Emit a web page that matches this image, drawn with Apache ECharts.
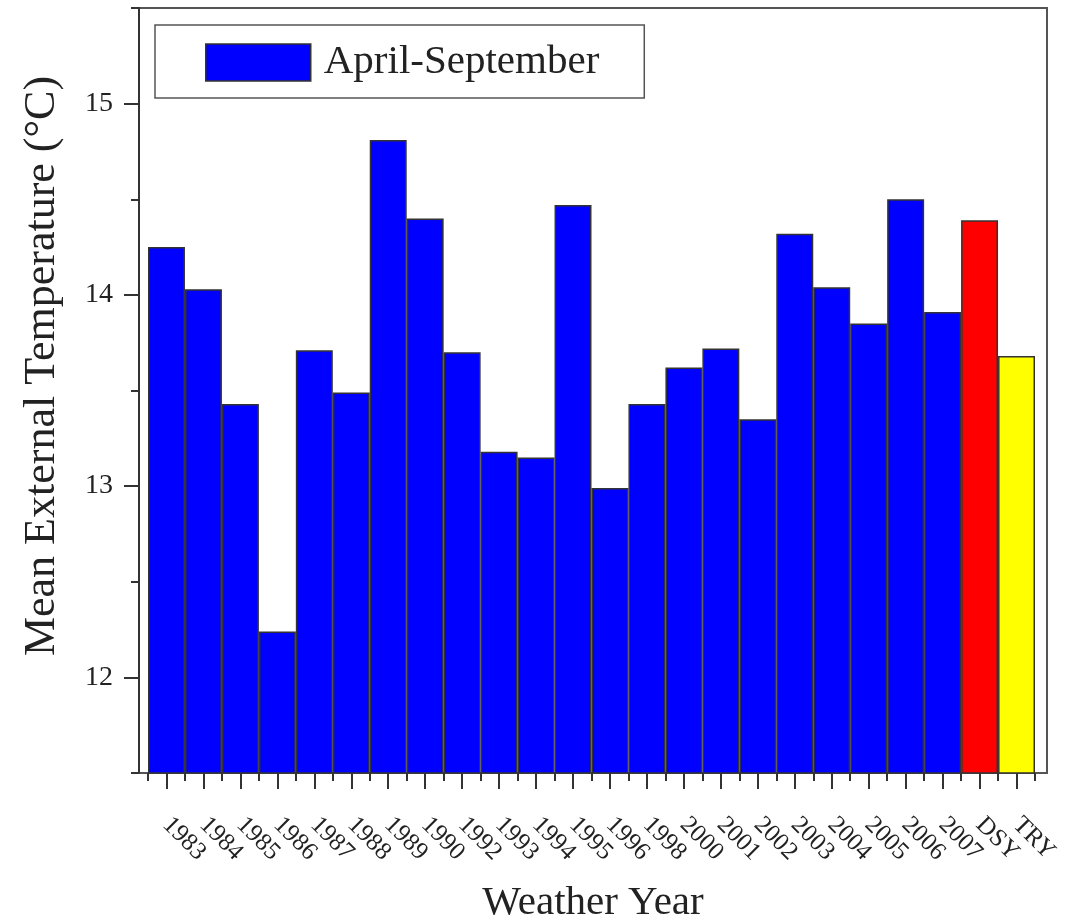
<!DOCTYPE html>
<html>
<head>
<meta charset="utf-8">
<title>Mean External Temperature by Weather Year</title>
<script src="https://cdn.jsdelivr.net/npm/echarts@6/dist/echarts.min.js"></script>
<style>
  html, body { margin: 0; padding: 0; background: #ffffff; }
  #chart { width: 1068px; height: 924px; }
</style>
</head>
<body>
<div id="chart"></div>
<script>
// Weather years plus the two reference years (DSY, TRY)
const categories = ['1983', '1984', '1985', '1986', '1987', '1988', '1989', '1990',
  '1992', '1993', '1994', '1995', '1996', '1998', '2000', '2001', '2002', '2003',
  '2004', '2005', '2006', '2007', 'DSY', 'TRY'];

// Mean external temperature, April-September (°C)
const meanTemps = [14.25, 14.03, 13.43, 12.24, 13.71, 13.49, 14.81, 14.40,
  13.70, 13.18, 13.15, 14.47, 12.99, 13.43, 13.62, 13.72, 13.35, 14.32,
  14.04, 13.85, 14.50, 13.91, 14.39, 13.68];

// Y axis range and tick values
const yMin = 11.5;
const yMax = 15.5;
const yMajorTicks = [12, 13, 14, 15];
const yMinorTicks = [11.5, 12.5, 13.5, 14.5, 15.5];

const seriesName = 'April-September';

// Fill colours
const baseColor = '#0000ff';
const specialColors = { DSY: '#ff0000', TRY: '#ffff00' };

const serif = "'Liberation Serif', 'Times New Roman', 'DejaVu Serif', serif";
const ink = '#222222';
const axisInk = '#333333';

const chart = echarts.init(document.getElementById('chart'), null, { renderer: 'canvas' });

const barData = categories.map((c, i) => ({
  value: meanTemps[i],
  itemStyle: { color: specialColors[c] || baseColor }
}));

const option = {
  backgroundColor: '#ffffff',
  animation: false,
  legend: {
    data: [seriesName],
    left: 155,
    top: 25,
    padding: [17, 45, 15, 50],
    itemWidth: 105,
    itemHeight: 37,
    icon: 'rect',
    borderColor: '#555555',
    borderWidth: 1.5,
    itemStyle: { borderColor: axisInk, borderWidth: 1.5 },
    textStyle: { fontFamily: serif, fontSize: 41, color: ink, lineHeight: 37, padding: [0, 0, 0, 8] }
  },
  grid: [
    // frame grid (full box, y axis)
    { left: 139, right: 21, top: 8, bottom: 151, show: true, borderColor: '#555555', borderWidth: 2,
      containLabel: false, outerBoundsMode: 'none' },
    // bar grid (inset slightly inside the frame)
    { left: 148, right: 33, top: 8, bottom: 151, containLabel: false, outerBoundsMode: 'none' }
  ],
  xAxis: [
    {
      gridIndex: 0, type: 'value', min: 0, max: 1, position: 'bottom',
      name: 'Weather Year', nameLocation: 'middle', nameGap: 110,
      nameTextStyle: { fontFamily: serif, fontSize: 41, color: ink },
      axisLine: { show: false }, axisTick: { show: false },
      axisLabel: { show: false }, splitLine: { show: false }
    },
    {
      gridIndex: 1, type: 'category', data: categories, boundaryGap: true, position: 'bottom',
      axisLine: { show: false },
      axisTick: { show: true, alignWithLabel: true, length: 16, lineStyle: { color: axisInk, width: 2 } },
      axisLabel: { interval: 0, rotate: -45, margin: 48, fontFamily: serif, fontSize: 25, color: ink },
      splitLine: { show: false }
    },
    {
      gridIndex: 1, type: 'category', data: categories, boundaryGap: true, position: 'bottom',
      axisLine: { show: false },
      axisTick: { show: true, alignWithLabel: false, interval: 0, length: 8, lineStyle: { color: axisInk, width: 2 } },
      axisLabel: { show: false },
      splitLine: { show: false }
    }
  ],
  yAxis: [
    {
      gridIndex: 0, type: 'value', min: yMin, max: yMax, position: 'left',
      axisLine: { show: true, lineStyle: { color: axisInk, width: 2 } },
      axisTick: { show: true, length: 15, customValues: yMajorTicks, lineStyle: { color: axisInk, width: 2 } },
      axisLabel: { customValues: yMajorTicks, margin: 26, fontFamily: serif, fontSize: 28, color: ink },
      splitLine: { show: false }
    },
    {
      gridIndex: 0, type: 'value', min: yMin, max: yMax, position: 'left',
      axisLine: { show: false },
      axisTick: { show: true, length: 8, customValues: yMinorTicks, lineStyle: { color: axisInk, width: 2 } },
      axisLabel: { show: false },
      splitLine: { show: false }
    },
    {
      gridIndex: 1, type: 'value', min: yMin, max: yMax, show: false
    }
  ],
  graphic: [
    {
      type: 'text',
      x: 42, y: 366, rotation: Math.PI / 2,
      style: {
        text: 'Mean External Temperature (°C)',
        fontFamily: serif, fontSize: 44, fill: ink,
        align: 'center', verticalAlign: 'middle'
      }
    }
  ],
  series: [
    {
      name: seriesName,
      type: 'bar',
      xAxisIndex: 1,
      yAxisIndex: 2,
      barWidth: '100%',
      barGap: '0%',
      itemStyle: { color: baseColor, borderColor: axisInk, borderWidth: 1.5 },
      data: barData
    }
  ]
};

chart.setOption(option);
</script>
</body>
</html>
